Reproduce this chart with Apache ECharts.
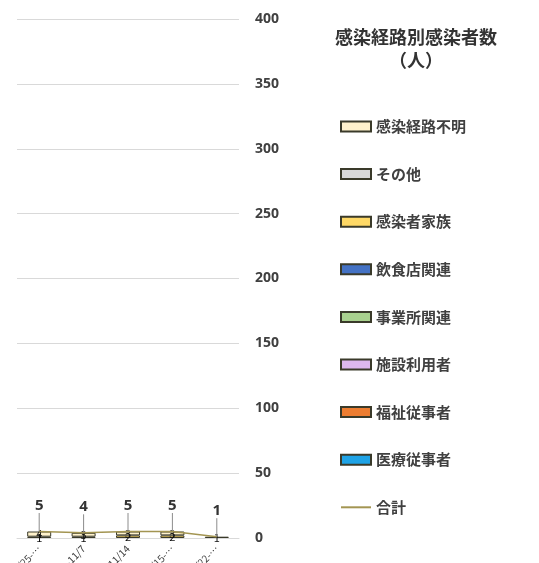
<!DOCTYPE html>
<html><head><meta charset="utf-8">
<script src="https://cdn.jsdelivr.net/npm/echarts@6/dist/echarts.min.js"></script>
<style>html,body{margin:0;padding:0;background:#fff}#c{width:539px;height:563px}</style>
</head><body><div id="c"></div>
<script>
const categories = ['10/25-…', '11/1-11/7', '11/8-11/14', '11/15-…', '11/22-…'];
const yTicks = [0, 50, 100, 150, 200, 250, 300, 350, 400];
const seriesNames = ['感染経路不明', 'その他', '感染者家族', '飲食店関連', '事業所関連', '施設利用者', '福祉従事者', '医療従事者'];
const seriesColors = ['#FFF2CC', '#D9D9D9', '#FFD966', '#4472C4', '#A9D18E', '#DDB8EE', '#ED7D31', '#1FA3E6'];
const unknownVals = [4, 3, 3, 3, 0];
const otherVals = [0, 0, 0, 0, 0];
const familyVals = [1, 1, 2, 2, 1];
const restaurantVals = [0, 0, 0, 0, 0];
const workplaceVals = [0, 0, 0, 0, 0];
const facilityVals = [0, 0, 0, 0, 0];
const welfareVals = [0, 0, 0, 0, 0];
const medicalVals = [0, 0, 0, 0, 0];
const totalVals = [5, 4, 5, 5, 1];
const totalName = '合計';

const valueSets = [unknownVals, otherVals, familyVals, restaurantVals, workplaceVals, facilityVals, welfareVals, medicalVals];
const font = '"Noto Sans CJK JP", "Noto Sans", sans-serif';

const barSeries = [];
for (let i = seriesNames.length - 1; i >= 0; i--) {
  barSeries.push({
    name: seriesNames[i], type: 'bar', stack: 'all', barWidth: 24,
    data: valueSets[i].map(v => v === 0 ? null : v),
    itemStyle: { color: seriesColors[i], borderColor: '#3a3a2a', borderWidth: 1 },
    label: { show: true, position: 'inside', fontSize: 11, color: '#111', fontFamily: font },
    emphasis: { disabled: true }
  });
}

const legendData = seriesNames.map(n => ({ name: n, icon: 'rect' }));
legendData.push({ name: totalName, itemStyle: { opacity: 0 } });

const chart = echarts.init(document.getElementById('c'), null, { renderer: 'canvas' });
chart.setOption({
  animation: false,
  backgroundColor: '#fff',
  title: {
    text: '感染経路別感染者数\n（人）', left: 411, top: 21, textAlign: 'center',
    textStyle: { fontSize: 18, fontWeight: 'bold', color: '#333', lineHeight: 23, fontFamily: font }
  },
  legend: {
    orient: 'vertical', left: 335, top: 114, itemWidth: 30, itemHeight: 10, itemGap: 32.6,
    data: legendData,
    textStyle: { fontSize: 15, fontWeight: 'bold', color: '#404040', fontFamily: font }
  },
  grid: { left: 17, right: 300, top: 19, bottom: 25, outerBoundsMode: 'none', containLabel: false },
  xAxis: {
    type: 'category', data: categories,
    axisLine: { lineStyle: { color: '#D9D9D9' } }, axisTick: { show: false },
    axisLabel: { rotate: 45, fontSize: 10, color: '#404040', fontFamily: font, margin: 9, interval: 0 }
  },
  yAxis: {
    type: 'value', position: 'right', min: yTicks[0], max: yTicks[yTicks.length - 1], interval: 50,
    axisLine: { show: false }, axisTick: { show: false },
    splitLine: { lineStyle: { color: '#D9D9D9', width: 1 } },
    axisLabel: { margin: 16, fontSize: 14, fontWeight: 'bold', color: '#404040', fontFamily: '"Open Sans", sans-serif' }
  },
  series: barSeries.concat([{
    name: totalName, type: 'line', data: totalVals, symbol: 'circle', symbolSize: 1, showSymbol: true,
    lineStyle: { color: '#A39552', width: 1.5 }, itemStyle: { color: 'rgba(0,0,0,0)' },
    label: { show: true, position: 'top', distance: 2, fontSize: 15, fontWeight: 'bold', color: '#333', fontFamily: '"Open Sans", sans-serif' },
    labelLayout: { dy: -16 },
    labelLine: { show: true, lineStyle: { color: '#8c8c8c', width: 1 } },
    emphasis: { disabled: true },
    z: 5
  }])
});
</script></body></html>
